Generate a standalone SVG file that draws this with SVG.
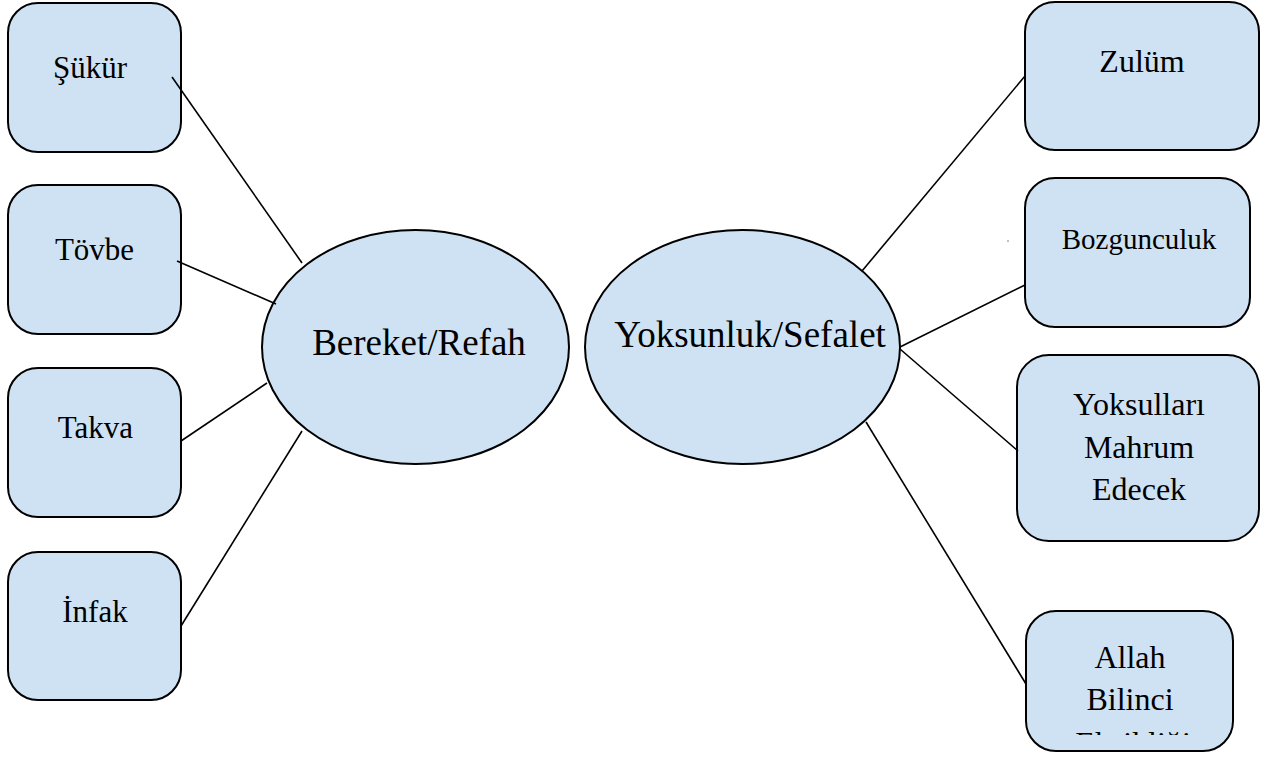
<svg xmlns="http://www.w3.org/2000/svg" width="1270" height="764" viewBox="0 0 1270 764">
<style>
.box{fill:#cfe2f3;stroke:#000;stroke-width:2}
.ell{fill:#cfe2f3;stroke:#000;stroke-width:2}
.lbl{font-family:"Liberation Serif","Times New Roman",serif;font-size:32px;fill:#000;text-anchor:middle}
.big{font-size:37px}
.conn line{stroke:#000;stroke-width:1.6}
</style>
<defs>
<clipPath id="clipAllah"><rect x="1026" y="611" width="207" height="124"/></clipPath>
</defs>
<rect width="1270" height="764" fill="#fff"/>
<g id="bereket">
<ellipse class="ell" cx="415.5" cy="347" rx="153.5" ry="117"/>
<text class="lbl big" x="419" y="355">Bereket/Refah</text>
</g>
<g id="yoksunluk">
<ellipse class="ell" cx="742.5" cy="347" rx="157.5" ry="117"/>
<text class="lbl big" x="750" y="347">Yoksunluk/Sefalet</text>
</g>
<g id="sukur">
<rect class="box" x="8" y="3" width="173" height="149" rx="30"/>
<text class="lbl" x="90" y="78" style="font-size:31px">Şükür</text>
</g>
<g id="tovbe">
<rect class="box" x="8" y="185" width="173" height="149" rx="30"/>
<text class="lbl" x="94.5" y="260" style="font-size:31px">Tövbe</text>
</g>
<g id="takva">
<rect class="box" x="8" y="368" width="173" height="149" rx="30"/>
<text class="lbl" x="95.5" y="438" style="font-size:31px">Takva</text>
</g>
<g id="infak">
<rect class="box" x="8" y="552" width="173" height="148" rx="30"/>
<text class="lbl" x="95" y="622" style="font-size:31px">İnfak</text>
</g>
<g id="zulum">
<rect class="box" x="1025" y="2" width="234" height="148" rx="30"/>
<text class="lbl" x="1142" y="72">Zulüm</text>
</g>
<g id="bozgunculuk">
<rect class="box" x="1025" y="178" width="225" height="149" rx="30"/>
<text class="lbl" x="1139" y="249" style="font-size:29px">Bozgunculuk</text>
<circle cx="1008" cy="241" r="0.7" fill="#555"/>
</g>
<g id="yoksullari">
<rect class="box" x="1017" y="355" width="242" height="186" rx="32"/>
<text class="lbl" x="1139" y="415">Yoksulları</text>
<text class="lbl" x="1139" y="458">Mahrum</text>
<text class="lbl" x="1139" y="500">Edecek</text>
</g>
<g id="allah">
<rect class="box" x="1026" y="611" width="207" height="140" rx="30"/>
<text class="lbl" x="1130" y="668">Allah</text>
<text class="lbl" x="1130" y="710">Bilinci</text>
<text class="lbl" x="1133" y="754" clip-path="url(#clipAllah)">Eksikliği</text>
</g>
<g id="connectors" class="conn">
<line x1="172" y1="77" x2="302" y2="263"/>
<line x1="177" y1="261" x2="276" y2="304"/>
<line x1="181" y1="441" x2="267" y2="383"/>
<line x1="181" y1="626" x2="302" y2="431"/>
<line x1="1025" y1="76" x2="862" y2="271"/>
<line x1="1025" y1="285" x2="900" y2="347"/>
<line x1="1018" y1="451" x2="900" y2="349"/>
<line x1="1026" y1="684" x2="866" y2="422"/>
</g>
</svg>
